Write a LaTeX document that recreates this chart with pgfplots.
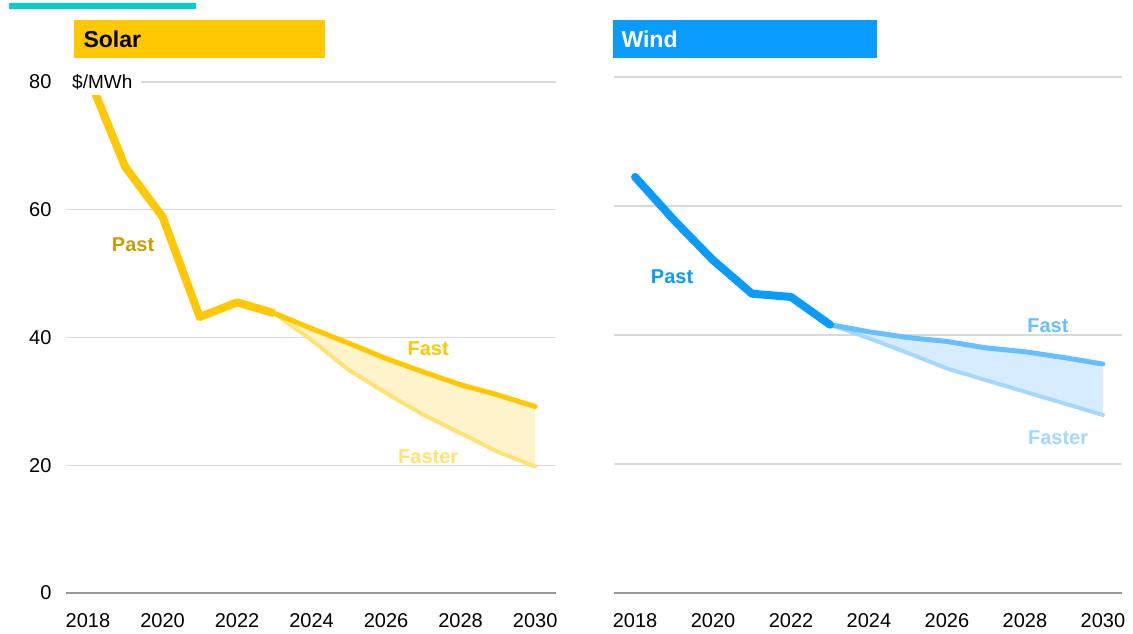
\documentclass[border=0pt]{standalone}
\usepackage{fontspec}
\setmainfont{Liberation Sans}
\usepackage{pgfplots}
\pgfplotsset{compat=1.18}
\definecolor{solar}{HTML}{FFC800}
\definecolor{solarpast}{HTML}{C89E00}
\definecolor{solarfaster}{HTML}{FFE270}
\definecolor{solarfill}{HTML}{FFF3CC}
\definecolor{wind}{HTML}{0A9BFF}
\definecolor{windfast}{HTML}{66C0FF}
\definecolor{windfaster}{HTML}{A3D8FF}
\definecolor{windfill}{HTML}{D7EDFF}
\definecolor{gridc}{HTML}{D9D9D9}
\definecolor{basec}{HTML}{999999}
\definecolor{teal}{HTML}{00D2C8}
\pgfplotsset{panel/.style={
  scale only axis, axis line style={draw=none}, tick style={draw=none},
  ymin=0, ymax=80, ytick={20,40,60,80}, ymajorgrids,
  grid style={line width=1.3pt, color=gridc},
  extra y ticks={0}, extra y tick style={grid style={line width=1.6pt, color=basec}},
  xtick={2018,2020,...,2030},
  tick label style={font=\fontsize{20}{24}\selectfont},
  x tick label style={/pgf/number format/1000 sep={}, yshift=-17pt},
  y tick label style={xshift=-11pt},
  /pgf/number format/assume math mode=true,
  anchor=south west}}
\begin{document}
\begin{tikzpicture}
\useasboundingbox (0pt,0pt) rectangle (1133pt,634pt);
\fill[teal] (9pt,625pt) rectangle (196pt,631pt);
% Solar panel
\begin{axis}[panel, at={(66pt,41pt)}, width=490pt, height=511pt, xmin=2017.41, xmax=2030.56]
\addplot[fill=solarfill, draw=none] coordinates {(2023,43.8)(2024,41.4)(2025,39.1)(2026,36.7)(2027,34.6)(2028,32.6)(2029,31.0)(2030,29.2)(2030,19.8)(2029,22.1)(2028,25.0)(2027,27.9)(2026,31.3)(2025,34.9)(2024,39.6)(2023,43.8)} -- cycle;
\addplot[solarfaster, line width=4pt, line join=round, line cap=round] coordinates {(2023,43.8)(2024,39.6)(2025,34.9)(2026,31.3)(2027,27.9)(2028,25.0)(2029,22.1)(2030,19.8)};
\addplot[solar, line width=5pt, line join=round, line cap=round] coordinates {(2023,43.8)(2024,41.4)(2025,39.1)(2026,36.7)(2027,34.6)(2028,32.6)(2029,31.0)(2030,29.2)};
\addplot[solar, line width=8pt, line join=round] coordinates {(2018,81.0)(2019,66.7)(2020,58.9)(2021,43.2)(2022,45.5)(2023,43.8)};
\node[font=\fontsize{20}{24}\selectfont\bfseries, text=solarpast] at (axis cs:2019.21,54.6) {Past};
\node[font=\fontsize{20}{24}\selectfont\bfseries, text=solar] at (axis cs:2027.13,38.3) {Fast};
\node[font=\fontsize{20}{24}\selectfont\bfseries, text=solarfaster] at (axis cs:2027.13,21.3) {Faster};
\end{axis}
\node[fill=white, anchor=west, inner xsep=9pt, inner ysep=5pt, font=\fontsize{19}{22}\selectfont] at (63pt,552pt) {\$/MWh};
\fill[solar] (74pt,576pt) rectangle (325pt,614pt);
\node[anchor=west, font=\fontsize{23}{26}\selectfont\bfseries] at (80pt,595pt) {Solar};
% Wind panel
\begin{axis}[panel, at={(614pt,41pt)}, width=508pt, height=516pt, xmin=2017.46, xmax=2030.49, yticklabels={}, extra y tick labels={}]
\addplot[fill=windfill, draw=none] coordinates {(2023,41.6)(2024,40.5)(2025,39.6)(2026,39.0)(2027,38.0)(2028,37.4)(2029,36.5)(2030,35.5)(2030,27.6)(2029,29.4)(2028,31.2)(2027,33.0)(2026,34.8)(2025,37.2)(2024,39.5)(2023,41.6)} -- cycle;
\addplot[windfaster, line width=4pt, line join=round, line cap=round] coordinates {(2023,41.6)(2024,39.5)(2025,37.2)(2026,34.8)(2027,33.0)(2028,31.2)(2029,29.4)(2030,27.6)};
\addplot[windfast, line width=5pt, line join=round, line cap=round] coordinates {(2023,41.6)(2024,40.5)(2025,39.6)(2026,39.0)(2027,38.0)(2028,37.4)(2029,36.5)(2030,35.5)};
\addplot[wind, line width=8pt, line join=round, line cap=round] coordinates {(2018,64.5)(2019,57.8)(2020,51.6)(2021,46.4)(2022,45.9)(2023,41.6)};
\node[font=\fontsize{20}{24}\selectfont\bfseries, text=wind] at (axis cs:2018.95,49.0) {Past};
\node[font=\fontsize{20}{24}\selectfont\bfseries, text=windfast] at (axis cs:2028.59,41.4) {Fast};
\node[font=\fontsize{20}{24}\selectfont\bfseries, text=windfaster] at (axis cs:2028.85,24.0) {Faster};
\end{axis}
\fill[wind] (613pt,576pt) rectangle (877pt,614pt);
\node[anchor=west, text=white, font=\fontsize{23}{26}\selectfont\bfseries] at (618pt,595pt) {Wind};
\end{tikzpicture}
\end{document}
